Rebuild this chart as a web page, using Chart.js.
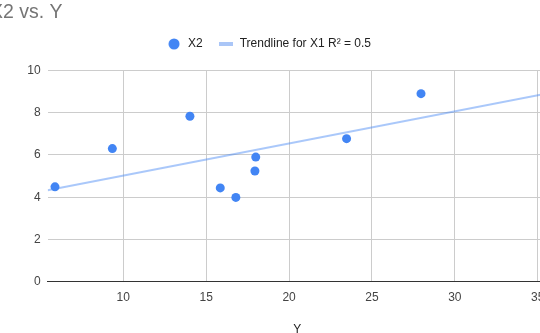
<!DOCTYPE html>
<html>
<head>
<meta charset="utf-8">
<script src="https://cdn.jsdelivr.net/npm/chart.js@4.4.1/dist/chart.umd.min.js"></script>
<style>
  html, body { margin: 0; padding: 0; background: #fff; overflow: hidden; width: 540px; height: 333px; }
  #wrap { position: absolute; left: -10px; top: 0; width: 570px; height: 333px; }
</style>
</head>
<body>
<div id="wrap"><canvas id="c" width="570" height="333"></canvas></div>
<script>
// ---- data ----
const seriesName = 'X2';
const trendName = 'Trendline for X1 R\u00B2 = 0.5';
const xValues = [5.88, 9.34, 14.02, 15.85, 16.79, 17.99, 17.94, 23.47, 27.96];
const yValues = [4.49, 6.30, 7.83, 4.44, 3.99, 5.90, 5.24, 6.77, 8.90];
const trendX = [5.44, 35.56];
const trendY = [4.33, 8.91];
const xTicks = [10, 15, 20, 25, 30, 35];
const yTicks = [0, 2, 4, 6, 8, 10];
const titleText = 'X2 vs. Y';
const xAxisTitle = 'Y';

const FONT = '"Liberation Sans", Arial, sans-serif';
Chart.defaults.font.family = FONT;

function makeCircle() {
  const c = document.createElement('canvas');
  c.width = 12; c.height = 12;
  const g = c.getContext('2d');
  g.fillStyle = '#4285f4';
  g.beginPath(); g.arc(6, 6, 5.5, 0, Math.PI * 2); g.fill();
  return c;
}
function makeBar() {
  const c = document.createElement('canvas');
  c.width = 14; c.height = 4;
  const g = c.getContext('2d');
  g.fillStyle = '#aac6f7';
  g.fillRect(0, 0, 14, 4);
  return c;
}
const circleImg = makeCircle();
const barImg = makeBar();

const spacer = {
  id: 'legendSpacer',
  beforeLayout(chart) {
    const lg = chart.legend;
    if (lg && !lg._spacerPatched) {
      lg._spacerPatched = true;
      const origFit = lg.fit;
      lg.fit = function () {
        origFit.call(this);
        this.height += 10.5;
      };
    }
  }
};

new Chart(document.getElementById('c'), {
  type: 'scatter',
  data: {
    datasets: [
      {
        label: seriesName,
        data: xValues.map((x, i) => ({ x: x, y: yValues[i] })),
        backgroundColor: '#4285f4',
        borderColor: '#4285f4',
        pointRadius: 4.5,
        pointBorderWidth: 0,
        pointHoverRadius: 4.5
      },
      {
        label: trendName,
        type: 'line',
        data: trendX.map((x, i) => ({ x: x, y: trendY[i] })),
        borderColor: 'rgba(66,133,244,0.45)',
        borderWidth: 2,
        pointRadius: 0,
        fill: false,
        showLine: true
      }
    ]
  },
  options: {
    responsive: false,
    animation: false,
    devicePixelRatio: 1,
    layout: { padding: { left: 0, right: 13, top: 0, bottom: 0 } },
    plugins: {
      tooltip: { enabled: false },
      title: {
        display: true,
        text: titleText,
        align: 'start',
        color: '#757575',
        font: { size: 19.5, weight: 'normal', family: FONT, lineHeight: 1.1 },
        padding: { top: 1.5, bottom: 0 }
      },
      legend: {
        display: true,
        position: 'top',
        align: 'center',
        labels: {
          usePointStyle: true,
          pointStyleWidth: 16,
          padding: 15,
          color: '#222',
          font: { size: 12, family: FONT },
          generateLabels: function () {
            return [
              { text: seriesName, pointStyle: circleImg, fillStyle: '#4285f4', strokeStyle: '#4285f4', lineWidth: 0, hidden: false, datasetIndex: 0, fontColor: '#222' },
              { text: trendName, pointStyle: barImg, fillStyle: '#aac6f7', strokeStyle: '#aac6f7', lineWidth: 0, hidden: false, datasetIndex: 1, fontColor: '#222' }
            ];
          }
        }
      }
    },
    scales: {
      x: {
        type: 'linear',
        position: 'bottom',
        min: trendX[0],
        max: trendX[1],
        afterBuildTicks: (s) => { s.ticks = xTicks.map(v => ({ value: v })); },
        afterFit: (s) => { s.height = 51.3; },
        ticks: { color: '#444', font: { size: 12 }, padding: 9, autoSkip: false, maxRotation: 0 },
        grid: { color: '#cccccc', drawTicks: false, lineWidth: 1 },
        border: { display: true, color: '#333333', width: 1 },
        title: { display: true, text: xAxisTitle, color: '#222', font: { size: 12, lineHeight: 0.6 }, padding: { top: 0, bottom: 0 } }
      },
      y: {
        type: 'linear',
        min: 0,
        max: 10,
        afterBuildTicks: (s) => { s.ticks = yTicks.map(v => ({ value: v })); },
        afterFit: (s) => { s.width = 57.7; },
        ticks: { color: '#444', font: { size: 12 }, padding: 7 },
        grid: { color: '#cccccc', drawTicks: false, lineWidth: 1 },
        border: { display: false }
      }
    }
  },
  plugins: [spacer]
});
</script>
</body>
</html>
